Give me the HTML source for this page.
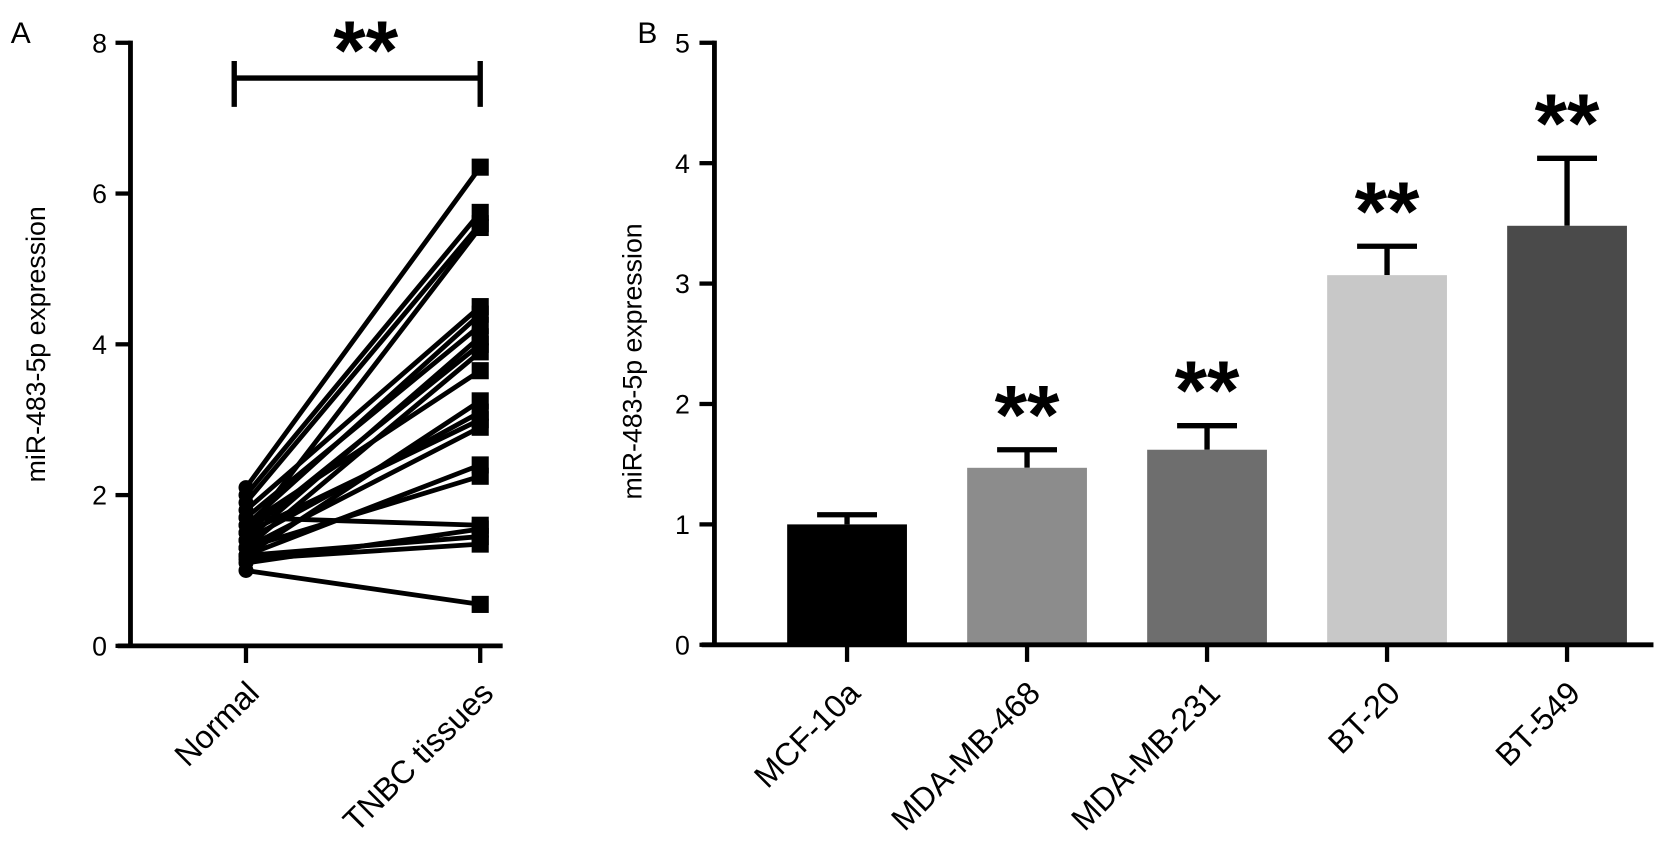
<!DOCTYPE html>
<html><head><meta charset="utf-8"><style>
body{margin:0;background:#fff;}
svg{display:block;font-family:"Liberation Sans",Arial,sans-serif;}
</style></head><body>
<svg id="chart" width="1677" height="864" viewBox="0 0 1568 808" preserveAspectRatio="none">
<text x="10" y="40" font-size="28">A</text>
<text x="596" y="40" font-size="28">B</text>
<g id="pa"></g>
<g id="pb"></g>
</svg>
<script>
const aCategories = ["Normal","TNBC tissues"];
const aNormal = [2.1,2.0,1.9,1.5,1.8,1.6,1.7,1.4,1.5,1.3,1.6,1.2,1.4,1.5,1.3,1.2,1.3,1.7,1.1,1.2,1.15,1.0];
const aTnbc   = [6.35,5.75,5.6,5.55,4.5,4.4,4.25,4.1,4.0,3.9,3.65,3.25,3.1,3.0,2.9,2.4,2.25,1.6,1.55,1.45,1.35,0.55];
const aTicks = [0,2,4,6,8];
const bCategories = ["MCF-10a","MDA-MB-468","MDA-MB-231","BT-20","BT-549"];
const bMeans = [1.0,1.47,1.62,3.07,3.48];
const bErr = [0.08,0.15,0.2,0.24,0.56];
const bColors = ["#000000","#8c8c8c","#6e6e6e","#c8c8c8","#4a4a4a"];
const bSig = ["","**","**","**","**"];
const bTicks = [0,1,2,3,4,5];
const NS="http://www.w3.org/2000/svg";
function mk(p,t,a){const e=document.createElementNS(NS,t);for(const k in a)e.setAttribute(k,a[k]);p.appendChild(e);return e;}
// Panel A
const pa=document.getElementById('pa');
const ay=v=>604-v*(564/8);
const ax=i=>[230,449][i];
mk(pa,'line',{x1:122,y1:38,x2:122,y2:606,stroke:'#000','stroke-width':4.5});
mk(pa,'line',{x1:110,y1:604,x2:470,y2:604,stroke:'#000','stroke-width':4.5});
aTicks.forEach(t=>{
 const l=mk(pa,'line',{x1:108,y1:ay(t),x2:122,y2:ay(t),stroke:'#000','stroke-width':4});
 
 const tx=mk(pa,'text',{x:100,y:ay(t)+9,'font-size':25,'text-anchor':'end'});tx.textContent=t;
 
});
aCategories.forEach((c,i)=>{
 const l=mk(pa,'line',{x1:ax(i),y1:604,x2:ax(i),y2:620,stroke:'#000','stroke-width':4});
 
 const tx=mk(pa,'text',{x:0,y:0,'font-size':30,'text-anchor':'end',transform:`translate(${ax(i)+14},${650}) rotate(-45)`});tx.textContent=c;
 
});
const at=mk(pa,'text',{x:0,y:0,'font-size':25,'text-anchor':'middle',transform:'translate(42,322) rotate(-90)'});at.textContent='miR-483-5p expression';

aNormal.forEach((v,i)=>{
 const l=mk(pa,'line',{x1:ax(0),y1:ay(v),x2:ax(1),y2:ay(aTnbc[i]),stroke:'#000','stroke-width':4.5});
 
});
aNormal.forEach(v=>{const c=mk(pa,'circle',{cx:ax(0),cy:ay(v),r:7,fill:'#000'});});
aTnbc.forEach(v=>{const r=mk(pa,'rect',{x:ax(1)-8,y:ay(v)-8,width:16,height:16,fill:'#000'});});
mk(pa,'path',{d:'M219 57V100M219 73H449M449 57V100',stroke:'#000','stroke-width':5,fill:'none'});
const as=mk(pa,'text',{x:342,y:74,'font-size':78,'font-weight':'bold','text-anchor':'middle'});as.textContent='**';

// Panel B
const pb=document.getElementById('pb');
const by=v=>603-v*(563/5);
const bx=i=>792+i*168.3;
const bw=112;
bMeans.forEach((m,i)=>{
 const e=mk(pb,'path',{d:`M${bx(i)} ${by(m)}V${by(m+bErr[i])}M${bx(i)-28} ${by(m+bErr[i])}H${bx(i)+28}`,stroke:'#000','stroke-width':5,fill:'none'});
 
 const r=mk(pb,'rect',{x:bx(i)-bw/2,y:by(m),width:bw,height:by(0)-by(m),fill:bColors[i]});
 
 if(bSig[i]){const s=mk(pb,'text',{x:bx(i),y:by(m+bErr[i])-6,'font-size':78,'font-weight':'bold','text-anchor':'middle'});s.textContent=bSig[i];
  }
 const l=mk(pb,'line',{x1:bx(i),y1:603,x2:bx(i),y2:619,stroke:'#000','stroke-width':4});
 
 const tx=mk(pb,'text',{x:0,y:0,'font-size':30,'text-anchor':'end',transform:`translate(${bx(i)+14},650) rotate(-45)`});tx.textContent=bCategories[i];
 
});
mk(pb,'line',{x1:668,y1:38,x2:668,y2:605,stroke:'#000','stroke-width':4.5});
mk(pb,'line',{x1:656,y1:603,x2:1546,y2:603,stroke:'#000','stroke-width':4.5});
bTicks.forEach(t=>{
 const l=mk(pb,'line',{x1:654,y1:by(t),x2:668,y2:by(t),stroke:'#000','stroke-width':4});
 
 const tx=mk(pb,'text',{x:645,y:by(t)+9,'font-size':25,'text-anchor':'end'});tx.textContent=t;
 
});
const bt=mk(pb,'text',{x:0,y:0,'font-size':25,'text-anchor':'middle',transform:'translate(600,338) rotate(-90)'});bt.textContent='miR-483-5p expression';

</script>
</body></html>
